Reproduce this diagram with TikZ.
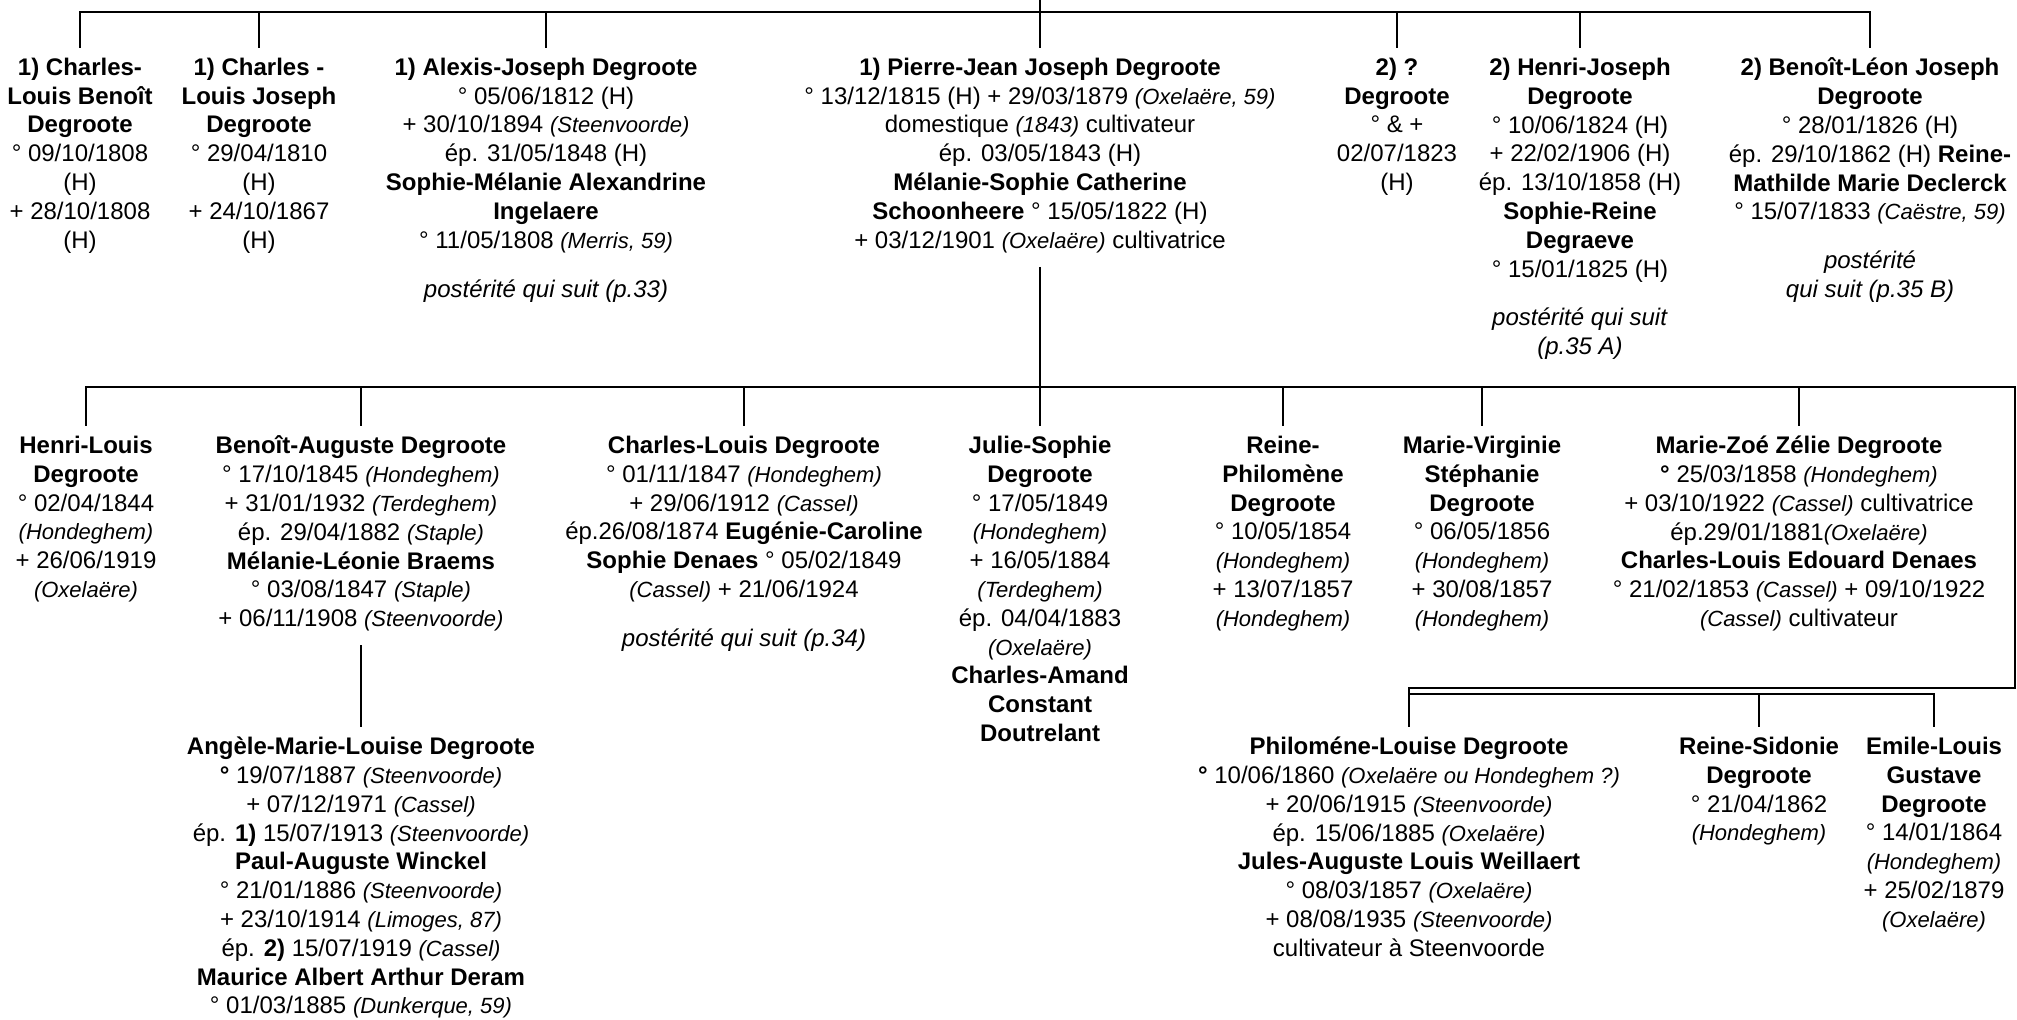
\documentclass[tikz,border=0pt]{standalone}
\usepackage{fontspec}
\setmainfont{Liberation Sans}
\usetikzlibrary{positioning}

% place names in smaller italics
\newcommand{\lieu}[1]{{\fontsize{11}{14.4}\selectfont\itshape #1}}

\begin{document}
\begin{tikzpicture}[
        x=0.5pt, y=-0.5pt,
        person/.style={align=center, anchor=north, inner sep=0pt, outer ysep=5pt,
            font=\fontsize{12}{14.4}\selectfont,
            execute at begin node=\strut, execute at end node=\strut},
        link/.style={line width=1.3pt}
    ]
    \useasboundingbox (0,0) rectangle (2017,1019);

    % first generation
    \coordinate (parent) at (1040,0);
    \coordinate (gen1) at (1040,12);

    \node[person] (a1) at (80,48) {\textbf{1) Charles-}\\\textbf{Louis Benoît}\\\textbf{Degroote}\\° 09/10/1808\\(H)\\+ 28/10/1808\\(H)};
    \node[person] (a2) at (259,48) {\textbf{1) Charles -}\\\textbf{Louis Joseph}\\\textbf{Degroote}\\° 29/04/1810\\(H)\\+ 24/10/1867\\(H)};
    \node[person] (a3) at (546,48) {\textbf{1) Alexis-Joseph Degroote}\\° 05/06/1812 (H)\\+ 30/10/1894 \lieu{(Steenvoorde)}\\ép. 31/05/1848 (H)\\\textbf{Sophie-Mélanie Alexandrine}\\\textbf{Ingelaere}\\° 11/05/1808 \lieu{(Merris, 59)}\\[10pt]\textit{postérité qui suit (p.33)}};
    \node[person] (pj) at (1040,48) {\textbf{1) Pierre-Jean Joseph Degroote}\\° 13/12/1815 (H) + 29/03/1879 \lieu{(Oxelaëre, 59)}\\domestique \lieu{(1843)} cultivateur\\ép. 03/05/1843 (H)\\\textbf{Mélanie-Sophie Catherine}\\\textbf{Schoonheere} ° 15/05/1822 (H)\\+ 03/12/1901 \lieu{(Oxelaëre)} cultivatrice};
    \node[person] (a5) at (1397,48) {\textbf{2) ?}\\\textbf{Degroote}\\° \& +\\02/07/1823\\(H)};
    \node[person] (a6) at (1580,48) {\textbf{2) Henri-Joseph}\\\textbf{Degroote}\\° 10/06/1824 (H)\\+ 22/02/1906 (H)\\ép. 13/10/1858 (H)\\\textbf{Sophie-Reine}\\\textbf{Degraeve}\\° 15/01/1825 (H)\\[10pt]\textit{postérité qui suit}\\\textit{(p.35 A)}};
    \node[person] (a7) at (1870,48) {\textbf{2) Benoît-Léon Joseph}\\\textbf{Degroote}\\° 28/01/1826 (H)\\ép. 29/10/1862 (H) \textbf{Reine-}\\\textbf{Mathilde Marie Declerck}\\° 15/07/1833 \lieu{(Caëstre, 59)}\\[10pt]\textit{postérité}\\\textit{qui suit (p.35 B)}};

    \draw[link] (parent) -- (pj.north);
    \foreach \n in {a1,a2,a3,a5,a6,a7}
        \draw[link] (gen1) -| (\n.north);

    % children of Pierre-Jean
    \coordinate (gen2) at (1040,387);
    \coordinate (edge) at (2015,688);

    \node[person] (b1) at (86,426) {\textbf{Henri-Louis}\\\textbf{Degroote}\\° 02/04/1844\\\lieu{(Hondeghem)}\\+ 26/06/1919\\\lieu{(Oxelaëre)}};
    \node[person] (b2) at (361,426) {\textbf{Benoît-Auguste Degroote}\\° 17/10/1845 \lieu{(Hondeghem)}\\+ 31/01/1932 \lieu{(Terdeghem)}\\ép. 29/04/1882 \lieu{(Staple)}\\\textbf{Mélanie-Léonie Braems}\\° 03/08/1847 \lieu{(Staple)}\\+ 06/11/1908 \lieu{(Steenvoorde)}};
    \node[person] (b3) at (744,426) {\textbf{Charles-Louis Degroote}\\° 01/11/1847 \lieu{(Hondeghem)}\\+ 29/06/1912 \lieu{(Cassel)}\\ép.26/08/1874 \textbf{Eugénie-Caroline}\\\textbf{Sophie Denaes} ° 05/02/1849\\\lieu{(Cassel)} + 21/06/1924\\[10pt]\textit{postérité qui suit (p.34)}};
    \node[person] (b4) at (1040,426) {\textbf{Julie-Sophie}\\\textbf{Degroote}\\° 17/05/1849\\\lieu{(Hondeghem)}\\+ 16/05/1884\\\lieu{(Terdeghem)}\\ép. 04/04/1883\\\lieu{(Oxelaëre)}\\\textbf{Charles-Amand}\\\textbf{Constant}\\\textbf{Doutrelant}};
    \node[person] (b5) at (1283,426) {\textbf{Reine-}\\\textbf{Philomène}\\\textbf{Degroote}\\° 10/05/1854\\\lieu{(Hondeghem)}\\+ 13/07/1857\\\lieu{(Hondeghem)}};
    \node[person] (b6) at (1482,426) {\textbf{Marie-Virginie}\\\textbf{Stéphanie}\\\textbf{Degroote}\\° 06/05/1856\\\lieu{(Hondeghem)}\\+ 30/08/1857\\\lieu{(Hondeghem)}};
    \node[person] (b7) at (1799,426) {\textbf{Marie-Zoé Zélie Degroote}\\\textbf{°} 25/03/1858 \lieu{(Hondeghem)}\\+ 03/10/1922 \lieu{(Cassel)} cultivatrice\\ép.29/01/1881\lieu{(Oxelaëre)}\\\textbf{Charles-Louis Edouard Denaes}\\° 21/02/1853 \lieu{(Cassel)} + 09/10/1922\\\lieu{(Cassel)} cultivateur};

    \draw[link] (pj.south) -- (b4.north);
    \foreach \n in {b1,b2,b3,b5,b6,b7}
        \draw[link] (gen2) -| (\n.north);

    % last children, carried over to the next line
    \coordinate (gen3) at (1409,694);

    \node[person] (c1) at (361,727) {\textbf{Angèle-Marie-Louise Degroote}\\\textbf{°} 19/07/1887 \lieu{(Steenvoorde)}\\+ 07/12/1971 \lieu{(Cassel)}\\ép. \textbf{1)} 15/07/1913 \lieu{(Steenvoorde)}\\\textbf{Paul-Auguste Winckel}\\° 21/01/1886 \lieu{(Steenvoorde)}\\+ 23/10/1914 \lieu{(Limoges, 87)}\\ép. \textbf{2)} 15/07/1919 \lieu{(Cassel)}\\\textbf{Maurice Albert Arthur Deram}\\° 01/03/1885 \lieu{(Dunkerque, 59)}};
    \node[person] (c2) at (1409,727) {\textbf{Philoméne-Louise Degroote}\\\textbf{°} 10/06/1860 \lieu{(Oxelaëre ou Hondeghem ?)}\\+ 20/06/1915 \lieu{(Steenvoorde)}\\ép. 15/06/1885 \lieu{(Oxelaëre)}\\\textbf{Jules-Auguste Louis Weillaert}\\° 08/03/1857 \lieu{(Oxelaëre)}\\+ 08/08/1935 \lieu{(Steenvoorde)}\\cultivateur à Steenvoorde};
    \node[person] (c3) at (1759,727) {\textbf{Reine-Sidonie}\\\textbf{Degroote}\\° 21/04/1862\\\lieu{(Hondeghem)}};
    \node[person] (c4) at (1934,727) {\textbf{Emile-Louis}\\\textbf{Gustave}\\\textbf{Degroote}\\° 14/01/1864\\\lieu{(Hondeghem)}\\+ 25/02/1879\\\lieu{(Oxelaëre)}};

    \draw[link] (b2.south) -- (c1.north);
    \draw[link] (gen2) -| (edge) -| (c2.north);
    \draw[link] (gen3) -| (c3.north);
    \draw[link] (gen3) -| (c4.north);
\end{tikzpicture}
\end{document}
